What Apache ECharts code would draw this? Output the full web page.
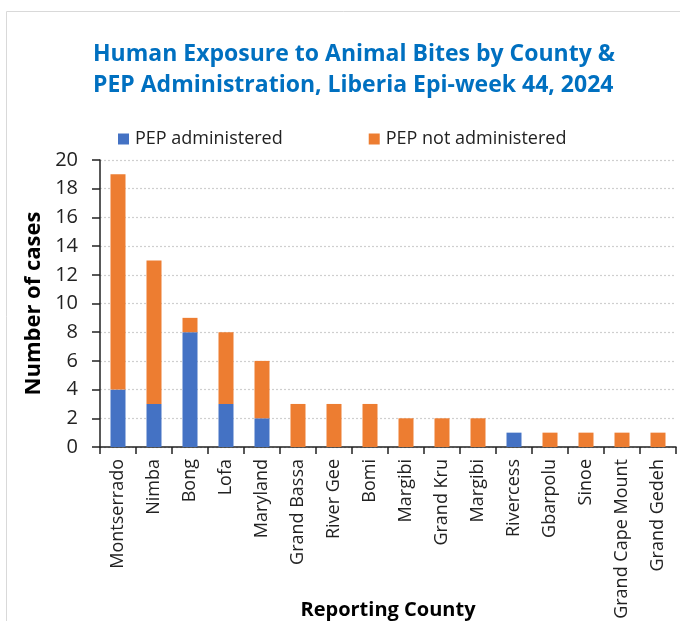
<!DOCTYPE html>
<html>
<head>
<meta charset="utf-8">
<script src="https://cdn.jsdelivr.net/npm/echarts@6/dist/echarts.min.js"></script>
<style>
  html, body { margin: 0; padding: 0; background: #fff; }
  #chart { width: 680px; height: 621px; }
</style>
</head>
<body>
<div id="chart"></div>
<script>
// counties (Margibi really appears twice)
const counties = ['Montserrado', 'Nimba', 'Bong', 'Lofa', 'Maryland', 'Grand Bassa', 'River Gee', 'Bomi',
  'Margibi', 'Grand Kru', 'Margibi', 'Rivercess', 'Gbarpolu', 'Sinoe', 'Grand Cape Mount', 'Grand Gedeh'];
const pepGiven = [4, 3, 8, 3, 2, 0, 0, 0, 0, 0, 0, 1, 0, 0, 0, 0];
const pepNotGiven = [15, 10, 1, 5, 4, 3, 3, 3, 2, 2, 2, 0, 1, 1, 1, 1];
const yTicks = [0, 2, 4, 6, 8, 10, 12, 14, 16, 18, 20];

const font = '"Open Sans", "Noto Sans", sans-serif';
const chart = echarts.init(document.getElementById('chart'));

const option = {
  animation: false,
  textStyle: { fontFamily: font },
  graphic: [{
    type: 'rect',
    shape: { x: 6.5, y: 11.5, width: 800, height: 800 },
    style: { fill: null, stroke: '#d9d9d9', lineWidth: 1 },
    silent: true
  }],
  title: {
    text: 'Human Exposure to Animal Bites by County &\nPEP Administration, Liberia Epi-week 44, 2024',
    left: 88,
    top: 34,
    textStyle: { fontFamily: font, fontSize: 23, fontWeight: 'bold', color: '#0070C0', lineHeight: 31 }
  },
  legend: {
    left: 113,
    top: 125,
    itemWidth: 11,
    itemHeight: 11,
    itemGap: 86,
    icon: 'rect',
    textStyle: { fontFamily: font, fontSize: 18, color: '#222', padding: [0, 0, 0, 1] },
    data: ['PEP administered', 'PEP not administered']
  },
  grid: { left: 100, right: 4, top: 160, bottom: 174, containLabel: false, outerBoundsMode: 'none' },
  xAxis: {
    type: 'category',
    data: counties,
    name: 'Reporting County',
    nameLocation: 'middle',
    nameGap: 153,
    nameMoveOverlap: false,
    nameTextStyle: { fontFamily: font, fontSize: 20, fontWeight: 'bold', color: '#000' },
    axisLine: { lineStyle: { color: '#222', width: 1.5 } },
    axisTick: { show: true, length: 7, lineStyle: { color: '#222', width: 1.5 } },
    axisLabel: { rotate: 90, margin: 12, fontSize: 18, color: '#222', interval: 0 }
  },
  yAxis: {
    type: 'value',
    min: 0,
    max: yTicks[yTicks.length - 1],
    interval: yTicks[1] - yTicks[0],
    name: 'Number of cases',
    nameLocation: 'middle',
    nameGap: 55,
    nameMoveOverlap: false,
    nameTextStyle: { fontFamily: font, fontSize: 22, fontWeight: 'bold', color: '#000' },
    axisLine: { show: true, lineStyle: { color: '#222', width: 1.5 } },
    axisTick: { show: true, length: 8, lineStyle: { color: '#222', width: 1.5 } },
    axisLabel: { margin: 22, fontSize: 20, color: '#222' },
    splitLine: { show: true, lineStyle: { type: [2, 2], color: '#cfcfcf', width: 1.2 } }
  },
  series: [
    {
      name: 'PEP administered',
      type: 'bar',
      stack: 'total',
      barWidth: 15,
      itemStyle: { color: '#4472C4' },
      data: pepGiven
    },
    {
      name: 'PEP not administered',
      type: 'bar',
      stack: 'total',
      barWidth: 15,
      itemStyle: { color: '#ED7D31' },
      data: pepNotGiven
    }
  ]
};

chart.setOption(option);
</script>
</body>
</html>
